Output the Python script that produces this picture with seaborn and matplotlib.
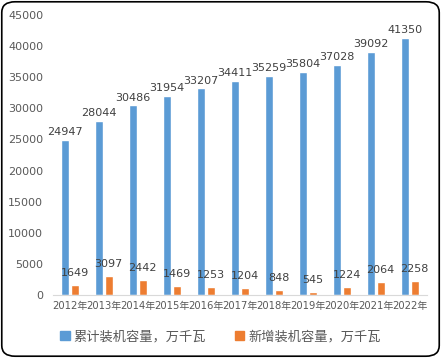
import matplotlib
matplotlib.use("Agg")
import matplotlib.pyplot as plt
from matplotlib.patches import FancyBboxPatch
import pandas as pd
import seaborn as sns

# chart data
years = ["2012年", "2013年", "2014年", "2015年", "2016年", "2017年",
         "2018年", "2019年", "2020年", "2021年", "2022年"]
cumulative = [24947, 28044, 30486, 31954, 33207, 34411, 35259, 35804, 37028, 39092, 41350]
added = [1649, 3097, 2442, 1469, 1253, 1204, 848, 545, 1224, 2064, 2258]
series_names = ["累计装机容量，万千瓦", "新增装机容量，万千瓦"]
y_ticks = list(range(0, 45001, 5000))

sns.set_style("white")
plt.rcParams["font.family"] = ["DejaVu Sans", "Noto Sans CJK SC"]

df = pd.DataFrame({
    "year": years * 2,
    "value": cumulative + added,
    "series": [series_names[0]] * len(years) + [series_names[1]] * len(years),
})

fig = plt.figure(figsize=(4.41, 3.58), dpi=100)
ax = fig.add_axes([0.12, 0.176, 0.848, 0.782])

sns.barplot(data=df, x="year", y="value", hue="series", hue_order=series_names,
            palette=["#5B9BD5", "#ED7D31"], width=0.56, gap=0.15,
            saturation=1, errorbar=None, ax=ax, legend=False)

for cont, pad in zip(ax.containers, [2, 5]):
    ax.bar_label(cont, padding=pad, fontsize=8, color="#404040")

ax.set_ylim(0, 45000)
ax.set_yticks(y_ticks)
ax.set_xlim(-0.5, len(years) - 0.5)
ax.set_xlabel("")
ax.set_ylabel("")
ax.tick_params(axis="both", length=0, labelcolor="#595959")
ax.tick_params(axis="y", pad=7, labelsize=8)
ax.tick_params(axis="x", pad=4, labelsize=7.2)
for s in ["top", "right", "left"]:
    ax.spines[s].set_visible(False)
ax.spines["bottom"].set_color("#D9D9D9")

handles = [plt.Rectangle((0, 0), 1, 1, color=c) for c in ["#5B9BD5", "#ED7D31"]]
leg = fig.legend(handles, series_names, loc="center", bbox_to_anchor=(0.5, 0.06),
                 ncol=2, frameon=False, fontsize=9.5, handlelength=0.7,
                 handleheight=0.7, handletextpad=0.3, columnspacing=2.2,
                 prop={"family": ["Noto Sans CJK SC"], "size": 9.5})
for t in leg.get_texts():
    t.set_color("#595959")

border = FancyBboxPatch((0.004, 0.005), 0.992, 0.99, boxstyle="round,pad=0,rounding_size=0.03",
                        transform=fig.transFigure, fill=False, edgecolor="black", linewidth=1.2)
fig.patches.append(border)

fig.savefig("out.png", dpi=100)
